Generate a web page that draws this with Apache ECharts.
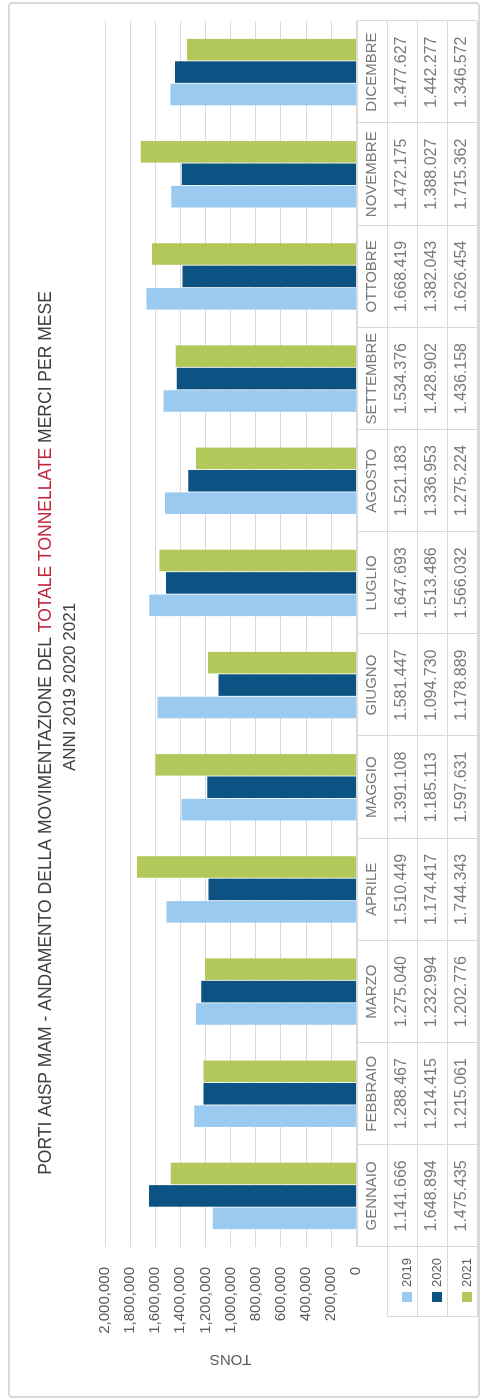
<!DOCTYPE html>
<html>
<head>
<meta charset="utf-8">
<script src="https://cdn.jsdelivr.net/npm/echarts@6/dist/echarts.min.js"></script>
<style>
  html, body { margin: 0; padding: 0; background: #fff; overflow: hidden; }
  body { width: 483px; height: 1400px; position: relative; }
  /* the chart is laid out landscape and turned a quarter turn, like the scanned page */
  #chart {
    position: absolute; left: 0; top: 0;
    width: 1400px; height: 483px;
    transform-origin: 0 0;
    transform: translate(0, 1400px) rotate(-90deg);
  }
</style>
</head>
<body>
<div id="chart"></div>
<script>
const months = ['GENNAIO', 'FEBBRAIO', 'MARZO', 'APRILE', 'MAGGIO', 'GIUGNO',
  'LUGLIO', 'AGOSTO', 'SETTEMBRE', 'OTTOBRE', 'NOVEMBRE', 'DICEMBRE'];
const years = ['2019', '2020', '2021'];
const tons2019 = [1141666, 1288467, 1275040, 1510449, 1391108, 1581447, 1647693, 1521183, 1534376, 1668419, 1472175, 1477627];
const tons2020 = [1648894, 1214415, 1232994, 1174417, 1185113, 1094730, 1513486, 1336953, 1428902, 1382043, 1388027, 1442277];
const tons2021 = [1475435, 1215061, 1202776, 1744343, 1597631, 1178889, 1566032, 1275224, 1436158, 1626454, 1715362, 1346572];
const colors = ['#9BCAF0', '#0C5282', '#B2C85A'];

const font = 'Liberation Sans';
const grey = '#595959';
const lineCol = '#d9d9d9';

function dotted(v) {   // 1.141.666 style used in the data table
  return String(v).replace(/\B(?=(\d{3})+(?!\d))/g, '.');
}
function commas(v) {   // 2,000,000 style used on the axis
  return String(v).replace(/\B(?=(\d{3})+(?!\d))/g, ',');
}

const series = [tons2019, tons2020, tons2021];

let chart = echarts.init(document.getElementById('chart'));

let bars = years.map(function (y, k) {
  return {
    name: y,
    type: 'bar',
    xAxisIndex: 0,
    yAxisIndex: 0,
    barGap: '4%',
    barCategoryGap: '35%',
    itemStyle: { color: colors[k] },
    data: series[k]
  };
});

// data table under the plot: one text row per year plus the month row
let tableRows = [{
  type: 'scatter', xAxisIndex: 1, yAxisIndex: 1, symbolSize: 0, silent: true,
  label: { show: true, position: 'inside', color: grey, fontFamily: font, fontSize: 15,
    formatter: function (p) { return months[p.value[0]]; } },
  data: months.map(function (m, i) { return [i, 0.5]; })
}];
years.forEach(function (y, k) {
  tableRows.push({
    type: 'scatter', xAxisIndex: 1, yAxisIndex: 1, symbolSize: 0, silent: true,
    label: { show: true, position: 'inside', color: grey, fontFamily: font, fontSize: 16,
      formatter: function (p) { return dotted(p.value[2]); } },
    data: series[k].map(function (v, i) { return [i, k + 1.5, v]; })
  });
});

let option = {
  backgroundColor: '#fff',
  animation: false,
  title: [{
    left: 662, top: 32, textAlign: 'center',
    text: '{a|PORTI AdSP MAM - ANDAMENTO DELLA MOVIMENTAZIONE DEL }{r|TOTALE TONNELLATE}{a| MERCI PER MESE}',
    textStyle: {
      fontWeight: 'normal',
      rich: {
        a: { fontFamily: font, fontSize: 17.5, fontWeight: 'normal', color: '#404040' },
        r: { fontFamily: font, fontSize: 17.5, fontWeight: 'normal', color: '#C0263C' }
      }
    }
  }, {
    left: 708, top: 57, textAlign: 'center',
    text: 'ANNI 2019 2020 2021',
    textStyle: { fontFamily: font, fontSize: 17, fontWeight: 'normal', color: '#404040' }
  }],
  legend: {
    data: years,
    orient: 'vertical',
    left: 93, top: 395,
    itemWidth: 10, itemHeight: 10, itemGap: 16,
    icon: 'rect',
    textStyle: { fontFamily: font, fontSize: 13, lineHeight: 14, color: grey }
  },
  graphic: [{
    type: 'rect', silent: true,
    shape: { x: 3, y: 9, width: 1394, height: 470, r: 3 },
    style: { fill: 'none', stroke: '#cfcfcf', lineWidth: 1.5 }
  }],
  grid: [
    { left: 153, right: 21, top: 105, bottom: 127 },   // plot
    { left: 153, right: 21, top: 357, bottom: 6 },     // data table
    { left: 83, width: 70, top: 387, bottom: 6 }       // legend cells
  ],
  xAxis: [{
    gridIndex: 0, type: 'category', data: months,
    axisLine: { show: false }, axisTick: { show: false }, axisLabel: { show: false }
  }, {
    gridIndex: 1, type: 'category', data: months,
    axisLine: { show: false }, axisTick: { show: false }, axisLabel: { show: false },
    splitLine: { show: true, interval: 0, lineStyle: { color: lineCol } }
  }, {
    gridIndex: 2, type: 'value', min: 0, max: 1, interval: 1,
    axisLine: { show: false }, axisTick: { show: false }, axisLabel: { show: false },
    splitLine: { show: true, lineStyle: { color: lineCol } }
  }],
  yAxis: [{
    gridIndex: 0, type: 'value', min: 0, max: 2000000, interval: 200000,
    name: 'TONS', nameLocation: 'middle', nameRotate: 90, nameGap: 105,
    nameTextStyle: { fontFamily: font, fontSize: 15, color: grey },
    axisLine: { show: false }, axisTick: { show: false },
    axisLabel: { margin: 20, fontFamily: font, fontSize: 15, color: grey, formatter: commas },
    splitLine: { lineStyle: { color: lineCol } }
  }, {
    gridIndex: 1, type: 'value', min: 0, max: 4, interval: 1, inverse: true,
    axisLine: { show: false }, axisTick: { show: false }, axisLabel: { show: false },
    splitLine: { show: true, lineStyle: { color: lineCol } }
  }, {
    gridIndex: 2, type: 'value', min: 0, max: 3, interval: 1,
    axisLine: { show: false }, axisTick: { show: false }, axisLabel: { show: false },
    splitLine: { show: true, lineStyle: { color: lineCol } }
  }],
  series: bars.concat(tableRows)
};

chart.setOption(option);
</script>
</body>
</html>
